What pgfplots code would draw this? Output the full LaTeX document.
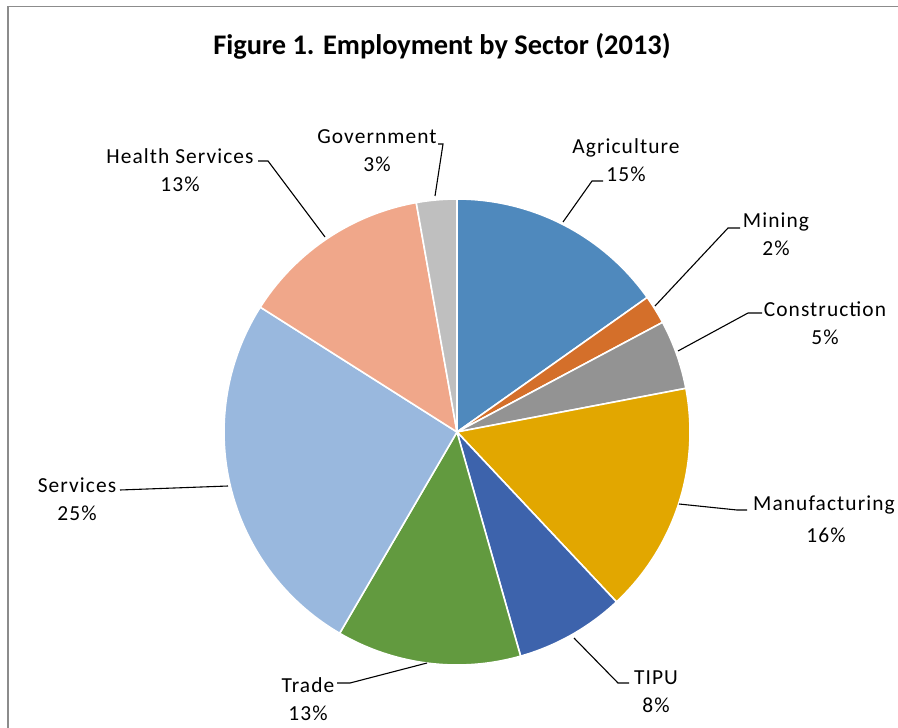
\documentclass[border=0pt]{standalone}
\usepackage{pgfplots}
\pgfplotsset{compat=1.18}
\usepackage{fontspec}
\setmainfont{Carlito}
\newfontfamily\labfont[LetterSpace=5]{Carlito}
\definecolor{cagr}{HTML}{4F89BD}
\definecolor{cmin}{HTML}{D46F2A}
\definecolor{ccon}{HTML}{939393}
\definecolor{cman}{HTML}{E2A700}
\definecolor{ctipu}{HTML}{3D63AC}
\definecolor{ctrade}{HTML}{629A3F}
\definecolor{cserv}{HTML}{99B8DE}
\definecolor{chealth}{HTML}{F0A78A}
\definecolor{cgov}{HTML}{BFBFBF}
\definecolor{frame}{HTML}{8C8C8C}
% slice: colour, cumulative share before (percent), share (percent)
\newcommand{\slice}[3]{%
  \addplot[fill=#1, draw=white, line width=1.6bp, domain={90-3.6*(#2+#3)}:{90-3.6*(#2)}, samples=90, variable=\t]
    ({457+233*cos(\t)},{432-233*sin(\t)}) -- (axis cs:457,432) -- cycle;}
\newcommand{\lab}[4]{\node[font=\labfont\fontsize{21.5}{28}\selectfont, align=center, inner sep=0pt] at (axis cs:#1,#2) {#3\\#4\%};}
\begin{document}
\begin{tikzpicture}
\begin{axis}[at={(0,0)}, anchor=south west, scale only axis, width=898bp, height=728bp,
  xmin=0, xmax=898, ymin=0, ymax=728, y dir=reverse, hide axis, clip=false]
% frame
\addplot[draw=frame, line width=1.4bp] coordinates {(8,730) (8,6.5) (900,6.5)};
% slices: Agriculture 15.2, Mining 2.0, Construction 4.8, Manufacturing 16.0, TIPU 7.6,
% Trade 12.8, Services 25.6, Health Services 13.2, Government 2.8
\slice{cagr}{0}{15.2}
\slice{cmin}{15.2}{2.0}
\slice{ccon}{17.2}{4.8}
\slice{cman}{22.0}{16.0}
\slice{ctipu}{38.0}{7.6}
\slice{ctrade}{45.6}{12.8}
\slice{cserv}{58.4}{25.6}
\slice{chealth}{84.0}{13.2}
\slice{cgov}{97.2}{2.8}
% leader lines
\addplot[black, line width=1.1bp] coordinates {(563,222) (592,181) (603,181)};
\addplot[black, line width=1.1bp] coordinates {(655,306) (728,228) (740,228)};
\addplot[black, line width=1.1bp] coordinates {(678,351) (748,313) (762,313)};
\addplot[black, line width=1.1bp] coordinates {(679,504) (737,510) (747,510)};
\addplot[black, line width=1.1bp] coordinates {(574,638) (618,683) (629,683)};
\addplot[black, line width=1.1bp] coordinates {(427,663) (350,683) (337,683)};
\addplot[black, line width=1.1bp] coordinates {(228,486) (120,490)};
\addplot[black, line width=1.1bp] coordinates {(325,237) (268,161) (258,161)};
\addplot[black, line width=1.1bp] coordinates {(435,196) (443,144) (438,144)};
% labels
\lab{626}{160}{Agriculture}{15}
\lab{776}{234}{Mining}{2}
\lab{825}{323}{Construction}{5}
\node[font=\labfont\fontsize{21.5}{28}\selectfont, anchor=west, inner sep=0pt] at (axis cs:753,505) {Manufacturing};
\node[font=\labfont\fontsize{21.5}{28}\selectfont, inner sep=0pt] at (axis cs:826,535) {16\%};
\lab{656}{692}{TIPU}{8}
\lab{308}{699}{Trade}{13}
\lab{77}{499}{Services}{25}
\lab{180}{170}{Health Services}{13}
\lab{377}{151}{Government}{3}
% title
\node[font=\bfseries\fontsize{28.5}{32}\selectfont, inner sep=0pt] at (axis cs:442,46) {Figure 1. Employment by Sector (2013)};
\end{axis}
\pgfresetboundingbox
\useasboundingbox (0,0) rectangle (898bp,728bp);
\end{tikzpicture}
\end{document}
